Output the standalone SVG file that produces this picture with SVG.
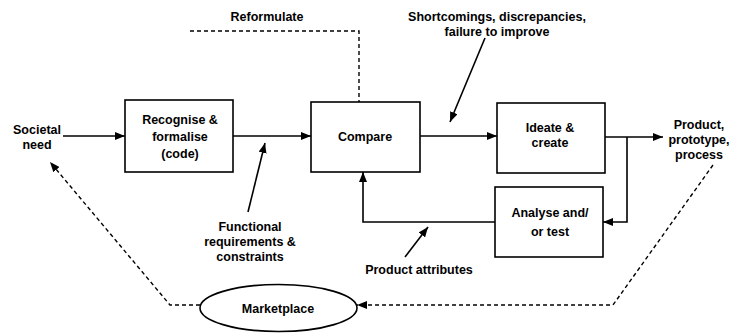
<svg xmlns="http://www.w3.org/2000/svg" width="738" height="333" viewBox="0 0 738 333">
  <defs>
    <marker id="arrow" viewBox="0 0 10 8" refX="10" refY="4" markerWidth="10" markerHeight="8" markerUnits="userSpaceOnUse" orient="auto">
      <path d="M0,0 L10,4 L0,8 Z" fill="#000"/>
    </marker>
  </defs>
  <style>
    text { font-family: "Liberation Sans", Arial, sans-serif; font-size: 12.5px; font-weight: bold; fill: #000; text-anchor: middle; }
    .box { fill: #fff; stroke: #000; stroke-width: 1.6; }
    .line { fill: none; stroke: #000; stroke-width: 1.6; }
    .dash { fill: none; stroke: #000; stroke-width: 1.4; stroke-dasharray: 4 3; }
    .arr { marker-end: url(#arrow); }
  </style>
  <rect width="738" height="333" fill="#fff"/>

  <!-- connectors -->
  <g id="connectors">
    <path class="line arr" d="M63,136 L125,136"/>
    <path class="line arr" d="M233,136 L311,136"/>
    <path class="line arr" d="M420,136 L497,136"/>
    <path class="line arr" d="M605,137 L663,137"/>
    <path class="line arr" d="M627,137 L627,222 L603,222"/>
    <path class="line arr" d="M495,222 L363,222 L363,172"/>
    <path class="dash" d="M190,31 L359,31 L359,102"/>
    <!-- label pointers -->
    <path class="line arr" d="M485,38 L450,122"/>
    <path class="line arr" d="M248,212 L265,143"/>
    <path class="line arr" d="M405,257 L428,227"/>
    <!-- market loop -->
    <path class="dash arr" d="M713,165 L613,305 L357,305"/>
    <path class="dash arr" d="M200,305 L170,305 L50,162"/>
  </g>

  <g id="societal-need">
    <text x="37" y="134">Societal</text>
    <text x="37" y="149">need</text>
  </g>

  <g id="recognise">
    <rect class="box" x="125" y="100" width="108" height="72"/>
    <text x="180" y="124">Recognise &amp;</text>
    <text x="180" y="141">formalise</text>
    <text x="180" y="158">(code)</text>
  </g>

  <g id="compare">
    <rect class="box" x="311" y="102" width="109" height="70"/>
    <text x="365" y="141">Compare</text>
  </g>

  <g id="ideate">
    <rect class="box" x="497" y="103" width="108" height="70"/>
    <text x="550" y="132">Ideate &amp;</text>
    <text x="550" y="147">create</text>
  </g>

  <g id="analyse">
    <rect class="box" x="495" y="187" width="108" height="70"/>
    <text x="550" y="217">Analyse and/</text>
    <text x="550" y="236">or test</text>
  </g>

  <g id="product">
    <text x="699" y="129">Product,</text>
    <text x="699" y="144">prototype,</text>
    <text x="699" y="159">process</text>
  </g>

  <g id="marketplace">
    <ellipse class="box" cx="278.5" cy="308" rx="78.5" ry="23.5"/>
    <text x="278" y="313">Marketplace</text>
  </g>

  <g id="labels">
    <text x="267" y="21">Reformulate</text>
    <text x="497" y="21">Shortcomings, discrepancies,</text>
    <text x="497" y="36">failure to improve</text>
    <text x="250" y="231">Functional</text>
    <text x="250" y="246">requirements &amp;</text>
    <text x="250" y="261">constraints</text>
    <text x="419" y="274">Product attributes</text>
  </g>
</svg>
